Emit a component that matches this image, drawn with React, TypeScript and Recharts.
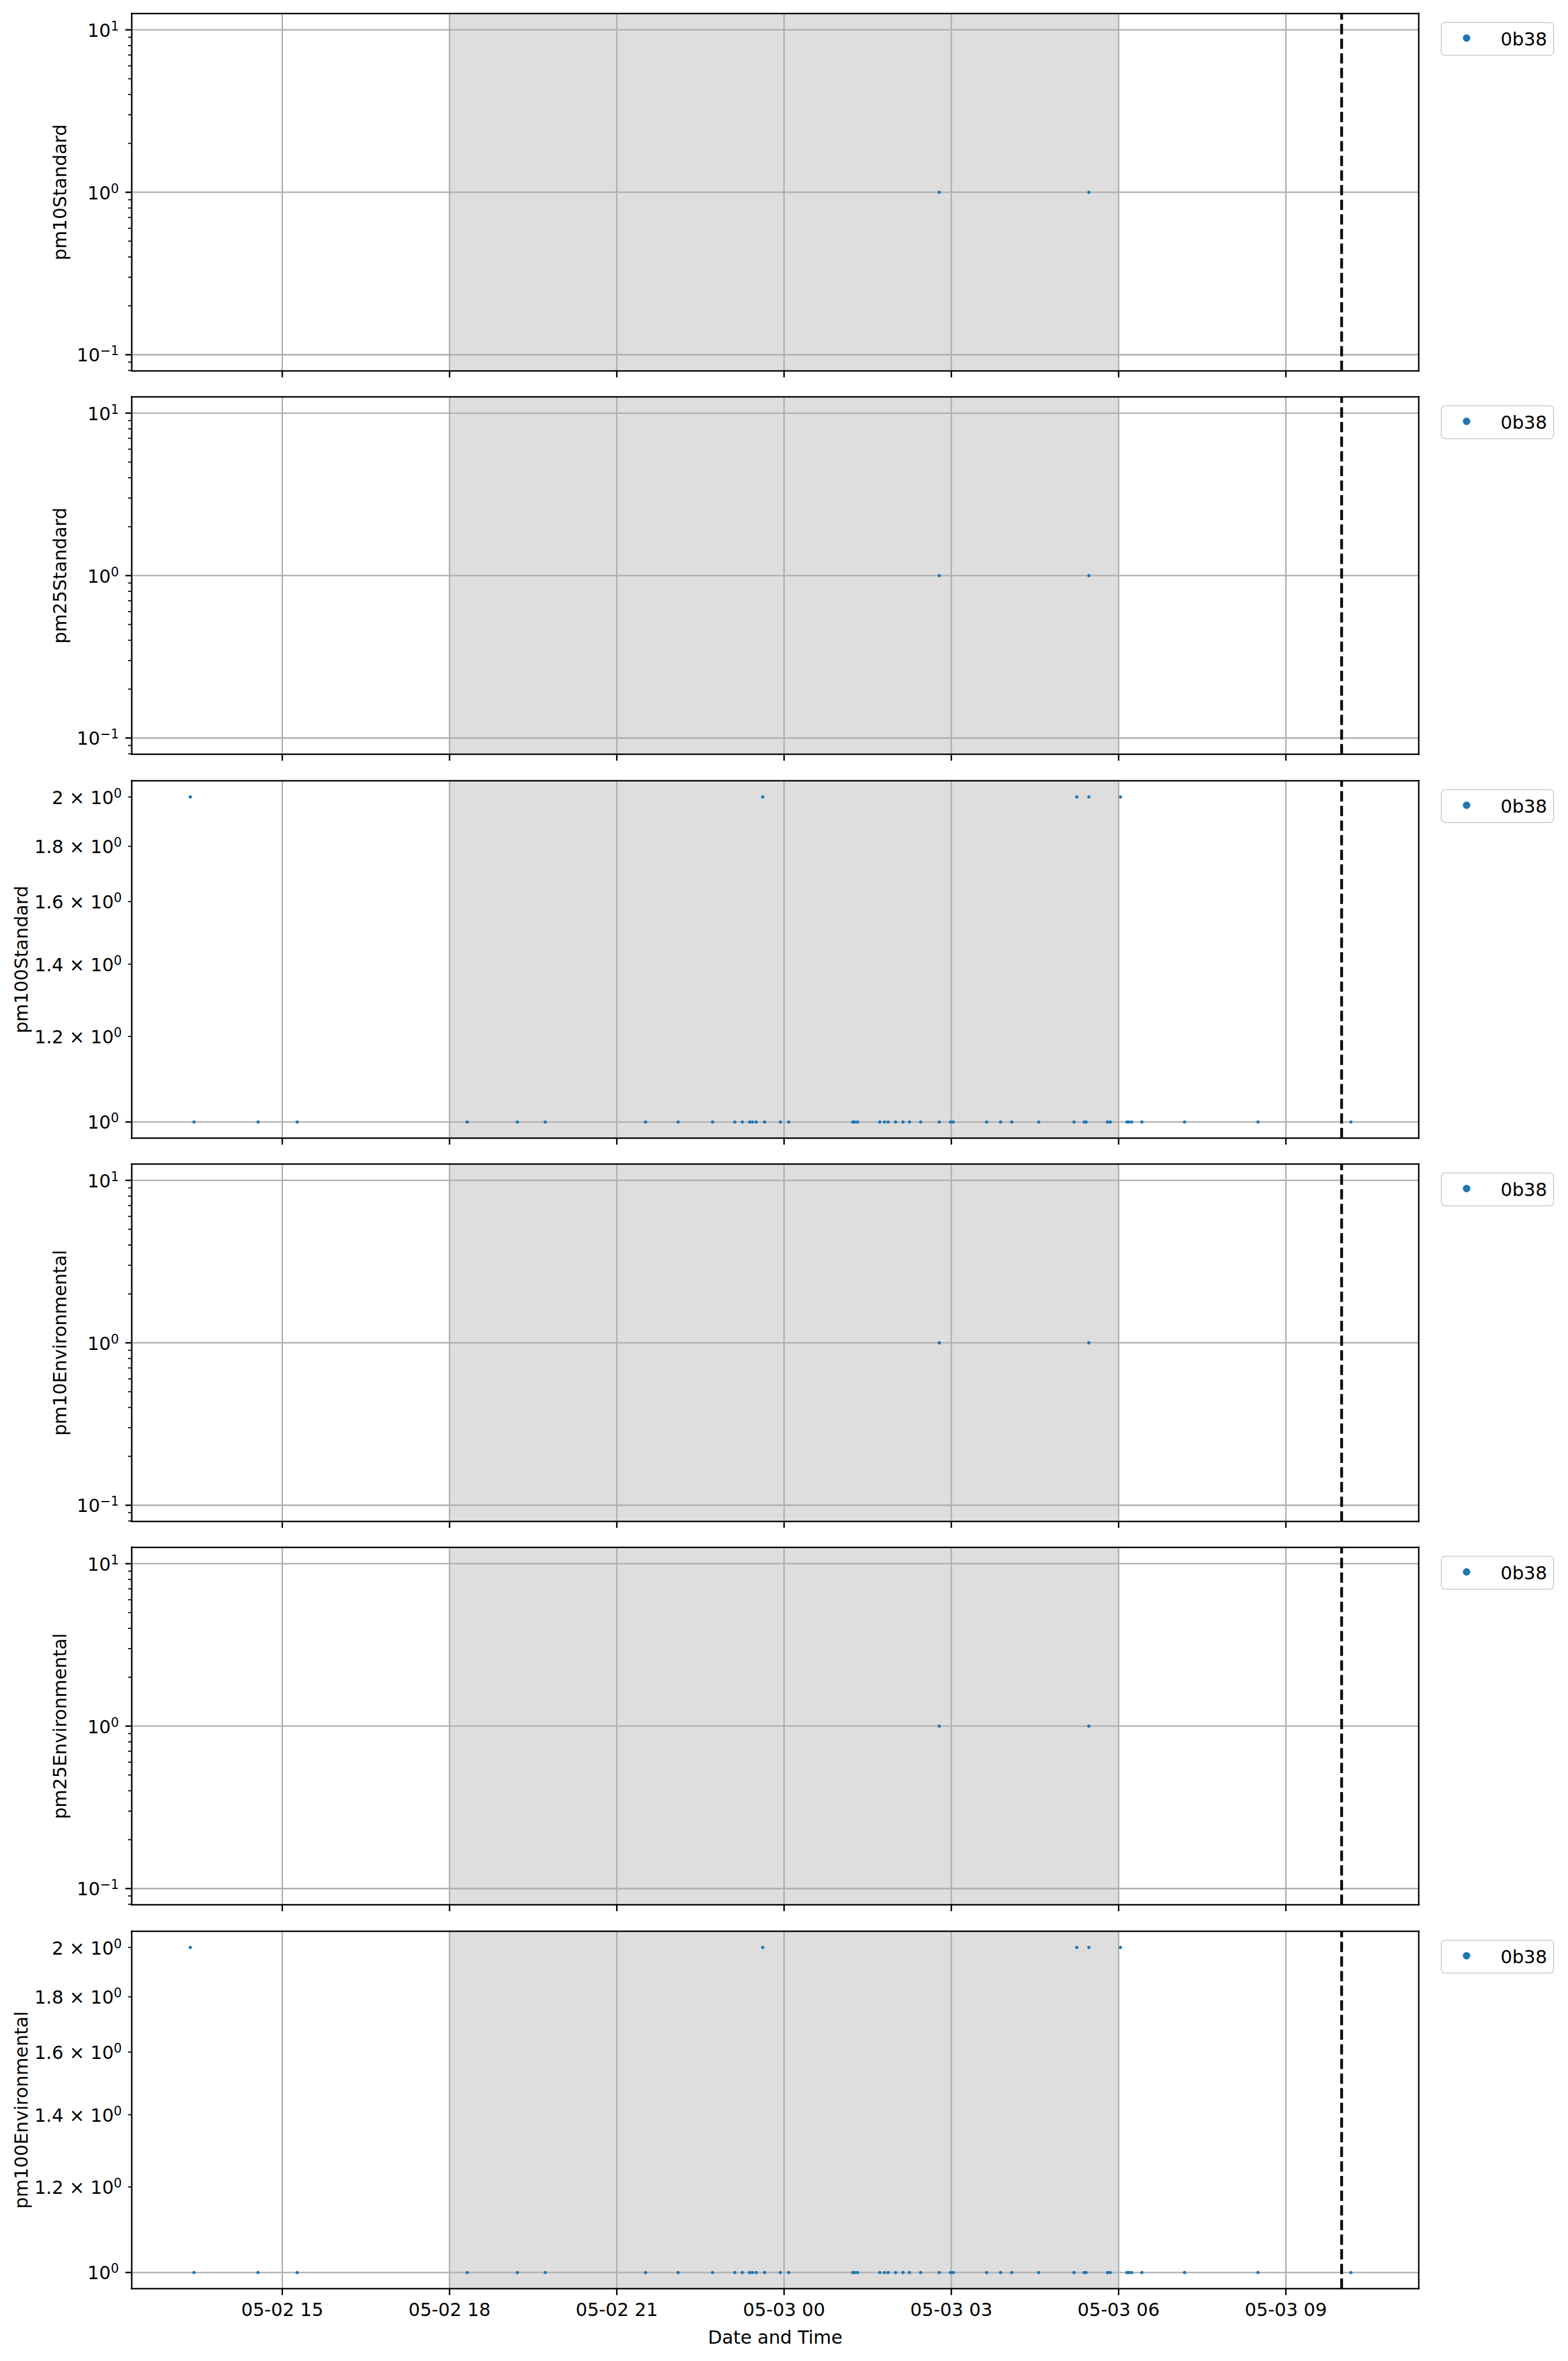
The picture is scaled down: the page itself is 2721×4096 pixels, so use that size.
import React from 'react';
import { ScatterChart, Scatter, XAxis, YAxis, ReferenceLine, ReferenceArea, Legend } from 'recharts';

// ---------------- data ----------------
const timestamps = [
  '05-02 13:21', '05-02 13:25', '05-02 14:34', '05-02 15:16', '05-02 18:19', '05-02 19:13', '05-02 19:43', '05-02 21:31', '05-02 22:06', '05-02 22:43',
  '05-02 23:07', '05-02 23:15', '05-02 23:23', '05-02 23:26', '05-02 23:30', '05-02 23:37', '05-02 23:39', '05-02 23:56', '05-03 00:05', '05-03 01:14',
  '05-03 01:16', '05-03 01:19', '05-03 01:43', '05-03 01:48', '05-03 01:52', '05-03 02:00', '05-03 02:08', '05-03 02:15', '05-03 02:27', '05-03 02:47',
  '05-03 02:59', '05-03 03:02', '05-03 03:38', '05-03 03:53', '05-03 04:05', '05-03 04:34', '05-03 05:12', '05-03 05:15', '05-03 05:23', '05-03 05:25',
  '05-03 05:28', '05-03 05:48', '05-03 05:51', '05-03 06:02', '05-03 06:09', '05-03 06:11', '05-03 06:14', '05-03 06:25', '05-03 07:11', '05-03 08:30',
  '05-03 10:10',
];

const pm10Standard = [
  0, 0, 0, 0, 0, 0, 0, 0, 0, 0,
  0, 0, 0, 0, 0, 0, 0, 0, 0, 0,
  0, 0, 0, 0, 0, 0, 0, 0, 0, 1,
  0, 0, 0, 0, 0, 0, 0, 0, 0, 0,
  1, 0, 0, 0, 0, 0, 0, 0, 0, 0,
  0,
];
const pm25Standard = [
  0, 0, 0, 0, 0, 0, 0, 0, 0, 0,
  0, 0, 0, 0, 0, 0, 0, 0, 0, 0,
  0, 0, 0, 0, 0, 0, 0, 0, 0, 1,
  0, 0, 0, 0, 0, 0, 0, 0, 0, 0,
  1, 0, 0, 0, 0, 0, 0, 0, 0, 0,
  0,
];
const pm100Standard = [
  2, 1, 1, 1, 1, 1, 1, 1, 1, 1,
  1, 1, 1, 1, 1, 2, 1, 1, 1, 1,
  1, 1, 1, 1, 1, 1, 1, 1, 1, 1,
  1, 1, 1, 1, 1, 1, 1, 2, 1, 1,
  2, 1, 1, 2, 1, 1, 1, 1, 1, 1,
  1,
];
const pm10Environmental = [
  0, 0, 0, 0, 0, 0, 0, 0, 0, 0,
  0, 0, 0, 0, 0, 0, 0, 0, 0, 0,
  0, 0, 0, 0, 0, 0, 0, 0, 0, 1,
  0, 0, 0, 0, 0, 0, 0, 0, 0, 0,
  1, 0, 0, 0, 0, 0, 0, 0, 0, 0,
  0,
];
const pm25Environmental = [
  0, 0, 0, 0, 0, 0, 0, 0, 0, 0,
  0, 0, 0, 0, 0, 0, 0, 0, 0, 0,
  0, 0, 0, 0, 0, 0, 0, 0, 0, 1,
  0, 0, 0, 0, 0, 0, 0, 0, 0, 0,
  1, 0, 0, 0, 0, 0, 0, 0, 0, 0,
  0,
];
const pm100Environmental = [
  2, 1, 1, 1, 1, 1, 1, 1, 1, 1,
  1, 1, 1, 1, 1, 2, 1, 1, 1, 1,
  1, 1, 1, 1, 1, 1, 1, 1, 1, 1,
  1, 1, 1, 1, 1, 1, 1, 2, 1, 1,
  2, 1, 1, 2, 1, 1, 1, 1, 1, 1,
  1,
];

const sensorName = '0b38';
const xAxisTitle = 'Date and Time';

const xTickLabels = ['05-02 15', '05-02 18', '05-02 21', '05-03 00', '05-03 03', '05-03 06', '05-03 09'];
const xDomainLimits = ['05-02 12:18', '05-03 11:23'];
const shadedPeriod = ['05-02 18:00', '05-03 06:00'];
const markerTime = '05-03 10:00';

const logMajorTicks = [0.1, 1, 10];
const logMajorExponents = ['\u22121', '0', '1'];
const logMinorTicks = [0.08, 0.09, 0.2, 0.3, 0.4, 0.5, 0.6, 0.7, 0.8, 0.9, 2, 3, 4, 5, 6, 7, 8, 9];
const logDomain = [0.0794, 12.59];

const narrowMajorTicks = [1];
const narrowMajorExponents = ['0'];
const narrowMinorTicks = [1.2, 1.4, 1.6, 1.8, 2];
const narrowMinorMantissas = ['1.2', '1.4', '1.6', '1.8', '2'];
const narrowDomain = [0.966, 2.07];

// ---------------- helpers ----------------
const toHours = (s: string): number => {
  const [md, hm] = s.split(' ');
  const day = parseInt(md.split('-')[1], 10);
  const parts = hm.split(':');
  const h = parseInt(parts[0], 10);
  const m = parts.length > 1 ? parseInt(parts[1], 10) : 0;
  return (day - 2) * 24 + h + m / 60;
};

const xTicks = xTickLabels.map(toHours);
const xDomain = xDomainLimits.map(toHours);
const shade = shadedPeriod.map(toHours);
const markerX = toHours(markerTime);

// ---------------- style ----------------
const W = 2721;
const TOTAL_H = 4096;
const ROW = 665.3;
const PLOT_TOP = 23.6;
const PLOT_H = 620;
const PLOT_LEFT = 228.6;
const RIGHT_MARGIN = 259;
const FONT = 31.75;
const FONT_FAMILY = "'DejaVu Sans', sans-serif";
const BLUE = '#1f77b4';
const GRID = '#b0b0b0';
const LW = 2.54;
const MAJOR_LEN = 11.1;
const MINOR_LEN = 6.35;

type Kind = 'log' | 'narrow';
interface PanelSpec { name: string; values: number[]; kind: Kind }

const panels: PanelSpec[] = [
  { name: 'pm10Standard', values: pm10Standard, kind: 'log' },
  { name: 'pm25Standard', values: pm25Standard, kind: 'log' },
  { name: 'pm100Standard', values: pm100Standard, kind: 'narrow' },
  { name: 'pm10Environmental', values: pm10Environmental, kind: 'log' },
  { name: 'pm25Environmental', values: pm25Environmental, kind: 'log' },
  { name: 'pm100Environmental', values: pm100Environmental, kind: 'narrow' },
];

const near = (a: number, b: number) => Math.abs(a - b) < 1e-6;

const makeYTick = (kind: Kind) => (props: any) => {
  const { x, y, payload } = props;
  const v = payload.value;
  const majors = kind === 'log' ? logMajorTicks : narrowMajorTicks;
  const majorExps = kind === 'log' ? logMajorExponents : narrowMajorExponents;
  const mi = majors.findIndex((m) => near(m, v));
  const isMajor = mi >= 0;
  let mant: string | null = null;
  let exp: string | null = null;
  if (isMajor) {
    exp = majorExps[mi];
  } else if (kind === 'narrow') {
    const ni = narrowMinorTicks.findIndex((m) => near(m, v));
    if (ni >= 0) {
      mant = narrowMinorMantissas[ni];
      exp = '0';
    }
  }
  const len = isMajor ? MAJOR_LEN : MINOR_LEN;
  const off = isMajor ? 22.2 : 17.1;
  return (
    <g>
      <line x1={x} x2={x - len} y1={y} y2={y} stroke="#000" strokeWidth={isMajor ? LW : 1.9} />
      {exp !== null && (
        <text x={x - off} y={y + 12} textAnchor="end" fontFamily={FONT_FAMILY} fontSize={FONT} fill="#000">
          {mant ? `${mant} \u00d7 10` : '10'}
          <tspan dy={-11} fontSize={FONT * 0.7}>{exp}</tspan>
        </text>
      )}
    </g>
  );
};

const makeXTick = (showLabel: boolean) => (props: any) => {
  const { x, y, payload } = props;
  const i = xTicks.findIndex((t) => near(t, payload.value));
  return (
    <g>
      <line x1={x} x2={x} y1={y} y2={y + MAJOR_LEN} stroke="#000" strokeWidth={LW} />
      {showLabel && i >= 0 && (
        <text x={x} y={y + 47} textAnchor="middle" fontFamily={FONT_FAMILY} fontSize={FONT} fill="#000">
          {xTickLabels[i]}
        </text>
      )}
    </g>
  );
};

const renderLegend = (props: any) => {
  const items = (props && props.payload) || [];
  return (
    <div
      style={{
        boxSizing: 'border-box',
        width: 197,
        height: 59,
        border: `${LW}px solid #d6d6d6`,
        borderRadius: 8,
        background: '#ffffff',
        position: 'relative',
        fontFamily: FONT_FAMILY,
        fontSize: FONT,
        color: '#000',
      }}
    >
      {items.slice(0, 1).map((it: any, i: number) => (
        <React.Fragment key={i}>
          <svg width={20} height={20} style={{ position: 'absolute', left: 32.5, top: 16, overflow: 'visible' }}>
            <circle cx={10} cy={10} r={6.5} fill={BLUE} />
          </svg>
          <span style={{ position: 'absolute', left: 102, top: 1, height: 54, lineHeight: '54px', whiteSpace: 'nowrap' }}>
            {it.value}
          </span>
        </React.Fragment>
      ))}
    </div>
  );
};

function Panel({ spec, index }: { spec: PanelSpec; index: number }) {
  const last = index === panels.length - 1;
  const top = index * ROW;
  const chartH = last ? TOTAL_H - top : ROW;
  const xAxisH = chartH - PLOT_TOP - PLOT_H;
  const isLog = spec.kind === 'log';
  const domain = isLog ? logDomain : narrowDomain;
  const majors = isLog ? logMajorTicks : narrowMajorTicks;
  const minors = isLog ? logMinorTicks : narrowMinorTicks;
  const yTicks = [...majors, ...minors].sort((a, b) => a - b);
  const data = timestamps
    .map((t, i) => ({ x: toHours(t), y: spec.values[i] }))
    .filter((d) => d.y > 0);
  const yLabelX = isLog ? 115 : 48;

  const yLabel = (p: any) => {
    const vb = p.viewBox || {};
    const cy = (vb.y ?? PLOT_TOP) + (vb.height ?? PLOT_H) / 2;
    return (
      <text
        x={yLabelX}
        y={cy}
        transform={`rotate(-90, ${yLabelX}, ${cy})`}
        textAnchor="middle"
        fontFamily={FONT_FAMILY}
        fontSize={FONT}
        fill="#000"
      >
        {spec.name}
      </text>
    );
  };

  const xLabel = (p: any) => {
    const vb = p.viewBox || {};
    const cx = (vb.x ?? PLOT_LEFT) + (vb.width ?? W - PLOT_LEFT - RIGHT_MARGIN) / 2;
    const y = (vb.y ?? PLOT_TOP + PLOT_H) + 95;
    return (
      <text x={cx} y={y} textAnchor="middle" fontFamily={FONT_FAMILY} fontSize={FONT} fill="#000">
        {xAxisTitle}
      </text>
    );
  };

  return (
    <div style={{ position: 'absolute', left: 0, top }}>
      <ScatterChart
        width={W}
        height={chartH}
        margin={{ top: PLOT_TOP, right: RIGHT_MARGIN, bottom: 0, left: 0 }}
      >
        <XAxis
          type="number"
          dataKey="x"
          domain={xDomain}
          ticks={xTicks}
          allowDataOverflow
          interval={0}
          height={xAxisH}
          axisLine={false}
          tickLine={false}
          tickSize={0}
          tickMargin={0}
          tick={makeXTick(last)}
          label={last ? { value: xAxisTitle, content: xLabel } : undefined}
        />
        <YAxis
          type="number"
          dataKey="y"
          scale="log"
          domain={domain}
          ticks={yTicks}
          allowDataOverflow
          interval={0}
          width={PLOT_LEFT}
          axisLine={false}
          tickLine={false}
          tickSize={0}
          tickMargin={0}
          tick={makeYTick(spec.kind)}
          label={{ value: spec.name, content: yLabel }}
        />
        <ReferenceArea
          x1={shade[0]}
          x2={shade[1]}
          y1={domain[0]}
          y2={domain[1]}
          fill="#dedede"
          fillOpacity={1}
          stroke="none"
          ifOverflow="visible"
        />
        {xTicks.map((t) => (
          <ReferenceLine key={`gx${t}`} x={t} stroke={GRID} strokeWidth={LW} />
        ))}
        {majors.map((v) => (
          <ReferenceLine key={`gy${v}`} y={v} stroke={GRID} strokeWidth={LW} />
        ))}
        <Scatter
          name={sensorName}
          data={data}
          fill={BLUE}
          isAnimationActive={false}
          shape={(p: any) => <circle cx={p.cx} cy={p.cy} r={2.8} fill={BLUE} />}
        />
        <ReferenceLine x={markerX} stroke="#000" strokeWidth={4.76} strokeDasharray="17.8 7.6" />
        <ReferenceLine x={xDomain[0]} stroke="#000" strokeWidth={LW} strokeLinecap="square" ifOverflow="visible" />
        <ReferenceLine x={xDomain[1]} stroke="#000" strokeWidth={LW} strokeLinecap="square" ifOverflow="visible" />
        <ReferenceLine y={domain[0]} stroke="#000" strokeWidth={LW} strokeLinecap="square" ifOverflow="visible" />
        <ReferenceLine y={domain[1]} stroke="#000" strokeWidth={LW} strokeLinecap="square" ifOverflow="visible" />
        <Legend
          layout="vertical"
          align="center"
          verticalAlign="middle"
          content={renderLegend}
          wrapperStyle={{ position: 'absolute', left: 2500, top: PLOT_TOP + 14.5, width: 197, height: 59, margin: 0, padding: 0 }}
        />
      </ScatterChart>
    </div>
  );
}

export default function App() {
  return (
    <div
      style={{
        position: 'absolute',
        left: 0,
        top: 0,
        width: W,
        height: TOTAL_H,
        background: '#ffffff',
        overflow: 'hidden',
      }}
    >
      {panels.map((p, i) => (
        <Panel key={p.name} spec={p} index={i} />
      ))}
    </div>
  );
}
